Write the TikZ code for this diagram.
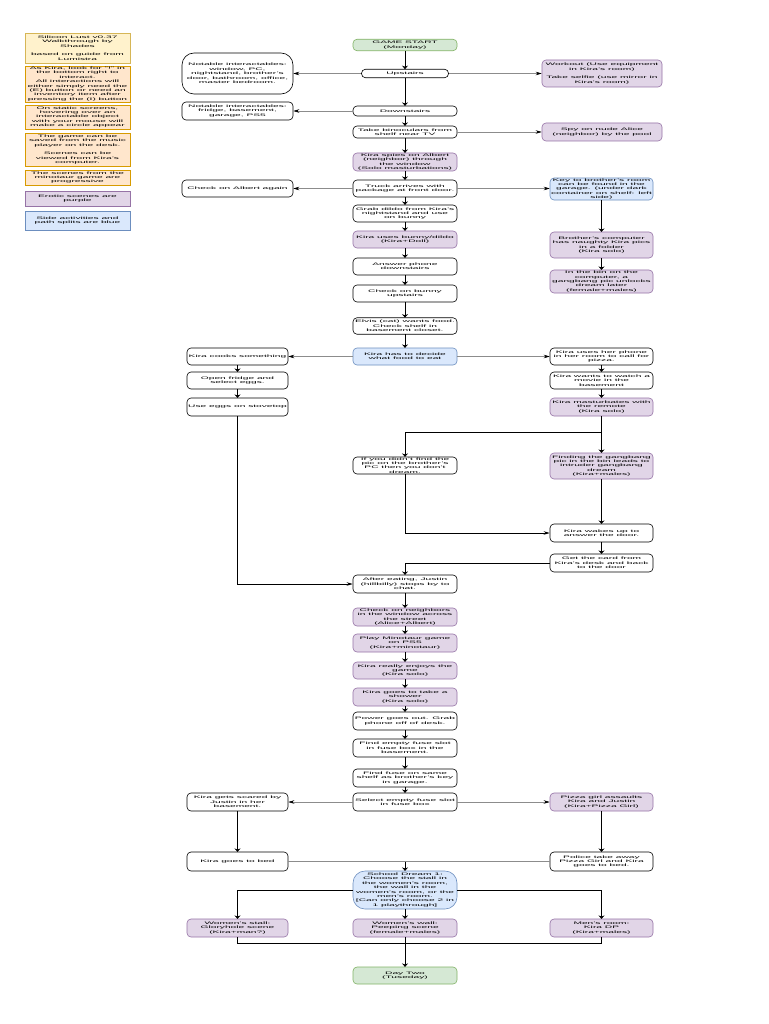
\documentclass[tikz,border=0pt]{standalone}
\usepackage{fontspec}
\setmainfont{Liberation Sans}
\usepackage{tikz}
\usetikzlibrary{arrows.meta}
\usepackage{xcolor}

\definecolor{startfill}{HTML}{D5E8D4}
\definecolor{startline}{HTML}{82B366}
\definecolor{eroticfill}{HTML}{E1D5E7}
\definecolor{eroticline}{HTML}{9673A6}
\definecolor{splitfill}{HTML}{DAE8FC}
\definecolor{splitline}{HTML}{6C8EBF}
\definecolor{notefill}{HTML}{FFF2CC}
\definecolor{noteline}{HTML}{D6B656}
\definecolor{hintfill}{HTML}{FFE6CC}
\definecolor{hintline}{HTML}{D79B00}

\begin{document}
\begin{tikzpicture}[x=1pt, y=-1pt,
  box/.style={draw=black, fill=white, line width=0.6pt, rounded corners=4pt, align=center,
    inner xsep=1pt, inner ysep=0.5pt, minimum width=104pt, yscale=0.355,
    font=\fontsize{10.2}{12.4}\selectfont},
  ht/.style={minimum height=#1pt/0.355},
  wd/.style={minimum width=#1pt},
  erotic/.style={box, fill=eroticfill, draw=eroticline},
  split/.style={box, fill=splitfill, draw=splitline},
  milestone/.style={box, fill=startfill, draw=startline},
  legend/.style={box, rounded corners=0pt, wd=105, fill=notefill, draw=noteline},
  hint/.style={legend, fill=hintfill, draw=hintline},
  link/.style={draw=black, line width=0.7pt},
  flow/.style={link, -{Stealth[length=3.5pt,width=6pt]}},
  turn/.style={link, -{Stealth[length=6pt,width=3.5pt]}},
  side/.style={link, draw=black!45, line width=0.5pt, -{Stealth[length=6pt,width=3.5pt,black]}}]

  \path[fill=white] (0,0) rectangle (768,1024);
  \useasboundingbox (0,0) rectangle (768,1024);

  % ==========================================
  % Legend column
  % ==========================================
  \node[legend, ht=30] (credits) at (77.5,48) {Silicon Lust v0.37\\Walkthrough by\\Shades\\[12.4pt]based on guide from\\Lumistra};
  \node[hint, ht=36] (tipinteract) at (77.5,84) {As Kira, look for "!" in\\the bottom right to\\interact.\\All interactions will\\either simply need the\\(E) button or need an\\inventory item after\\pressing the (I) button};
  \node[hint, ht=24] (tiphover) at (77.5,117) {On static screens,\\hovering over an\\interactable object\\with your mouse will\\make a circle appear};
  \node[hint, ht=33] (tipsave) at (77.5,149.5) {The game can be\\saved from the music\\player on the desk.\\[12.4pt]Scenes can be\\viewed from Kira's\\computer.};
  \node[hint, ht=15] (tipminotaur) at (77.5,177.5) {The scenes from the\\minotaur game are\\progressive};
  \node[legend, ht=15, fill=eroticfill, draw=eroticline] (keyerotic) at (77.5,198.5) {Erotic scenes are\\purple};
  \node[legend, ht=19, fill=splitfill, draw=splitline] (keysplit) at (77.5,220.5) {Side activities and\\path splits are blue};

  % ==========================================
  % Morning: house tour
  % ==========================================
  \node[milestone, ht=11.5] (start) at (405,45) {GAME START\\(Monday)};
  \node[box, wd=87, ht=8.5] (up) at (405,73.5) {Upstairs};
  \node[box, wd=111, ht=41, rounded corners=12pt] (upnotes) at (237.5,73.5) {Notable interactables:\\window, PC,\\nightstand, brother's\\door, bathroom, office,\\master bedroom.};
  \node[erotic, wd=120, ht=27] (workout) at (602,73.5) {Workout (Use equipment\\in Kira's room)\\[12.4pt]Take selfie (use mirror in\\Kira's room)};
  \node[box, ht=10] (down) at (405,111) {Downstairs};
  \node[box, wd=111, ht=18] (downnotes) at (237.5,111) {Notable interactables:\\fridge, basement,\\garage, PS5};
  \node[box, ht=12] (bino) at (405,132) {Take binoculars from\\shelf near TV};
  \node[erotic, wd=120, ht=18] (alice) at (602,132) {Spy on nude Alice\\(neighbor) by the pool};
  \node[erotic, ht=18] (spies) at (405,162) {Kira spies on Albert\\(neighbor) through\\the window\\(Solo masturbations)};

  \draw[flow] (start) -- (up);
  \draw[side] (up) -- (upnotes);
  \draw[side] (up) -- (workout);
  \draw[flow] (up) -- (down);
  \draw[side] (down) -- (downnotes);
  \draw[flow] (down) -- (bino);
  \draw[side] (bino) -- (alice);
  \draw[flow] (bino) -- (spies);

  % ==========================================
  % The package and the brother's room
  % ==========================================
  \node[box, ht=17] (truck) at (405,188.5) {Truck arrives with\\package at front door.};
  \node[box, wd=111, ht=17] (albert) at (237.5,188.5) {Check on Albert again};
  \node[split, wd=103, ht=22] (key) at (601.5,189) {Key to brother's room\\can be found in the\\garage. (under dark\\container on shelf: left\\side)};
  \node[erotic, wd=103, ht=26] (brocomp) at (601.5,245) {Brother's computer\\has naughty Kira pics\\in a folder\\(Kira solo)};
  \node[erotic, wd=103, ht=23] (bin) at (601.5,281.5) {In the bin on the\\computer, a\\gangbang pic unlocks\\dream later\\(female+males)};
  \node[box, ht=17] (dildo) at (405,213.5) {Grab dildo from Kira's\\nightstand and use\\on bunny};
  \node[erotic, ht=17] (bunny) at (405,239.5) {Kira uses bunny/dildo\\(Kira+Doll)};
  \node[box, ht=17] (answer) at (405,266.5) {Answer phone\\downstairs};
  \node[box, ht=17] (checkbunny) at (405,293.5) {Check on bunny\\upstairs};
  \node[box, ht=16.5] (elvis) at (405,326) {Elvis (cat) wants food.\\Check shelf in\\basement closet.};

  \draw[flow] (spies) -- (truck);
  \draw[side] (truck) -- (albert);
  \draw[side] (truck.east) -- (truck.east -| key.west);
  \draw[flow] (key) -- (brocomp);
  \draw[flow] (brocomp) -- (bin);
  \draw[flow] (truck) -- (dildo);
  \draw[flow] (dildo) -- (bunny);
  \draw[flow] (bunny) -- (answer);
  \draw[flow] (answer) -- (checkbunny);
  \draw[flow] (checkbunny) -- (elvis);

  % ==========================================
  % Food split
  % ==========================================
  \node[split, ht=17] (decide) at (405,356.5) {Kira has to decide\\what food to eat};
  \node[box, wd=101, ht=17] (cooks) at (237.5,356.5) {Kira cooks something};
  \node[box, wd=101, ht=17] (fridge) at (237.5,380.5) {Open fridge and\\select eggs.};
  \node[box, wd=101, ht=18] (eggs) at (237.5,407) {Use eggs on stovetop};
  \node[box, wd=103, ht=17] (pizzacall) at (601.5,356.5) {Kira uses her phone\\in her room to call for\\pizza.};
  \node[box, wd=103, ht=17] (movie) at (601.5,380.5) {Kira wants to watch a\\movie in the\\basement};
  \node[erotic, wd=103, ht=18] (remote) at (601.5,407) {Kira masturbates with\\the remote\\(Kira solo)};
  \node[box, ht=17] (ifnot) at (405,465.5) {If you didn't find the\\pic on the brother's\\PC then you don't\\dream.};
  \node[erotic, wd=103, ht=26] (gangbang) at (601.5,466) {Finding the gangbang\\pic in the bin leads to\\intruder gangbang\\dream\\(Kira+males)};
  \node[box, wd=103, ht=18] (wakes) at (601.5,533) {Kira wakes up to\\answer the door.};
  \node[box, wd=103, ht=18] (card) at (601.5,563) {Get the card from\\Kira's desk and back\\to the door};
  \node[box, ht=18] (justin) at (405,584) {After eating, Justin\\(hillbilly) stops by to\\chat.};
  \coordinate (dreamfork) at (601.5,432);

  \draw[flow] (elvis) -- (decide);
  \draw[side] (decide) -- (cooks);
  \draw[side] (decide) -- (pizzacall);
  \draw[flow] (cooks) -- (fridge);
  \draw[flow] (fridge) -- (eggs);
  \draw[turn] (eggs.south) |- (justin.west);
  \draw[flow] (pizzacall) -- (movie);
  \draw[flow] (movie) -- (remote);
  \draw[flow] (remote) -- (gangbang);
  \draw[flow] (dreamfork) -| (ifnot.north);
  \draw[flow] (gangbang) -- (wakes);
  \draw[turn] (ifnot.south) |- (wakes.west);
  \draw[flow] (wakes) -- (card);
  \draw[flow] (card.west) -| (justin.north);

  % ==========================================
  % Evening: minotaur game and the fuse box
  % ==========================================
  \node[erotic, ht=18] (neighbors) at (405,617) {Check on neighbors\\in the window across\\the street\\(Alice+Albert)};
  \node[erotic, ht=18] (minotaur) at (405,643) {Play Minotaur game\\on PS5\\(Kira+minotaur)};
  \node[erotic, ht=17] (enjoys) at (405,670.5) {Kira really enjoys the\\game\\(Kira solo)};
  \node[erotic, ht=18] (shower) at (405,697) {Kira goes to take a\\shower\\(Kira solo)};
  \node[box, ht=18] (power) at (405,721) {Power goes out. Grab\\phone off of desk.};
  \node[box, ht=18] (fuseslot) at (405,748) {Find empty fuse slot\\in fuse box in the\\basement.};
  \node[box, ht=18] (fuseshelf) at (405,778) {Find fuse on same\\shelf as brother's key\\in garage.};
  \node[box, ht=18] (select) at (405,802) {Select empty fuse slot\\in fuse box};
  \node[box, wd=101, ht=18] (scared) at (237.5,802) {Kira gets scared by\\Justin in her\\basement.};
  \node[erotic, wd=103, ht=18] (pizzagirl) at (601.5,802) {Pizza girl assaults\\Kira and Justin\\(Kira+Pizza Girl)};
  \node[box, wd=101, ht=19] (bed) at (237.5,861.5) {Kira goes to bed};
  \node[box, wd=103, ht=19] (police) at (601.5,861.5) {Police take away\\Pizza Girl and Kira\\goes to bed.};
  \coordinate (bedjoin) at (405,861.5);

  \draw[flow] (justin) -- (neighbors);
  \draw[flow] (neighbors) -- (minotaur);
  \draw[flow] (minotaur) -- (enjoys);
  \draw[flow] (enjoys) -- (shower);
  \draw[flow] (shower) -- (power);
  \draw[flow] (power) -- (fuseslot);
  \draw[flow] (fuseslot) -- (fuseshelf);
  \draw[flow] (fuseshelf) -- (select);
  \draw[side] (select) -- (scared);
  \draw[side] (select) -- (pizzagirl);
  \draw[flow] (scared) -- (bed);
  \draw[flow] (pizzagirl) -- (police);
  \draw[link, draw=black!45, line width=0.5pt] (bed) -- (police);

  % ==========================================
  % School dream and day two
  % ==========================================
  \node[split, ht=38, rounded corners=12pt] (dream) at (405,890) {School Dream 1:\\Choose the stall in\\the women's room,\\the wall in the\\women's room, or the\\men's room.\\{}[Can only choose 2 in\\1 playthrough]};
  \node[erotic, wd=101, ht=18] (stall) at (237.5,928) {Women's stall:\\Gloryhole scene\\(Kira+man?)};
  \node[erotic, ht=18] (wall) at (405,928) {Women's wall:\\Peeping scene\\(female+males)};
  \node[erotic, wd=103, ht=18] (menroom) at (601.5,928) {Men's room:\\Kira DP\\(Kira+males)};
  \node[milestone, ht=17] (daytwo) at (405,975.5) {Day Two\\(Tuseday)};
  \coordinate (scenejoin) at (405,943);

  \draw[flow] (bedjoin) -- (dream);
  \draw[flow] (dream.west) -| (stall.north);
  \draw[flow] (dream.east) -| (menroom.north);
  \draw[flow] (dream) -- (wall);
  \draw[link] (stall.south) |- (scenejoin) -| (menroom.south);
  \draw[flow] (wall) -- (daytwo);

\end{tikzpicture}
\end{document}
